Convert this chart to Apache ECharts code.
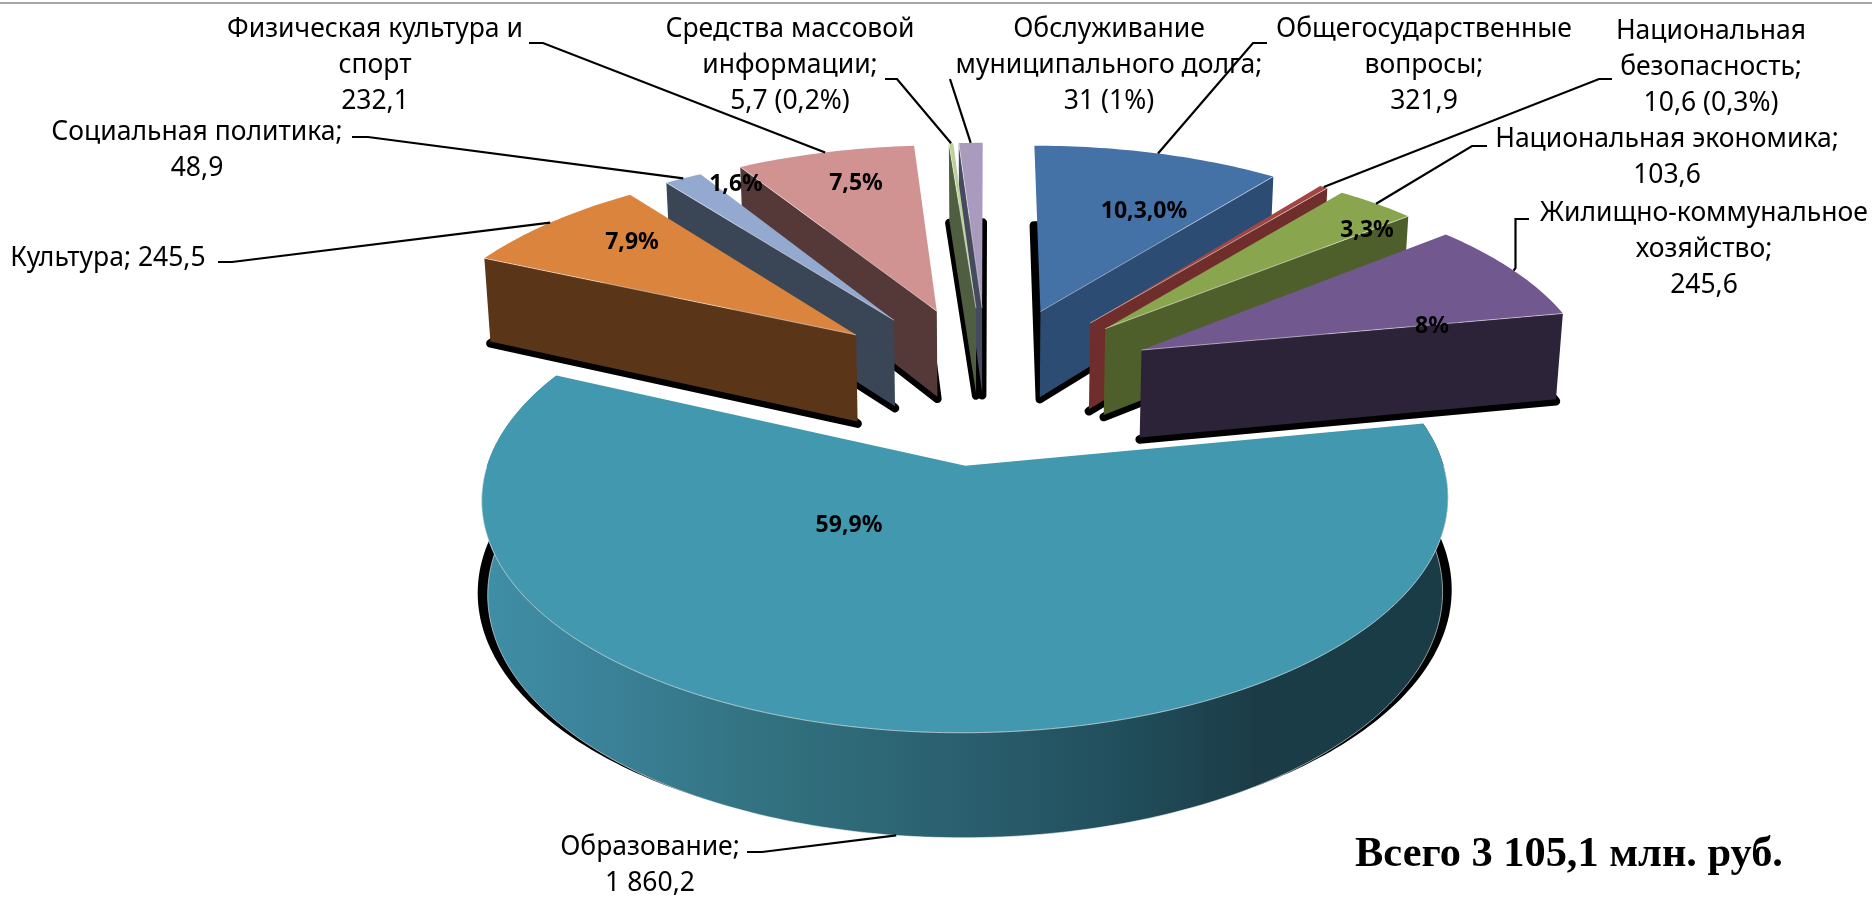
<!DOCTYPE html>
<html>
<head>
<meta charset="utf-8">
<style>html,body{margin:0;padding:0;background:#fff}#c{width:1872px;height:897px}</style>
<script src="https://cdn.jsdelivr.net/npm/echarts@6/dist/echarts.min.js"></script>
</head>
<body>
<div id="c"></div>
<script>
// ---- data ----
const categories = ['Общегосударственные вопросы','Национальная безопасность','Национальная экономика','Жилищно-коммунальное хозяйство','Образование','Культура','Социальная политика','Физическая культура и спорт','Средства массовой информации','Обслуживание муниципального долга'];
const values = [321.9, 10.6, 103.6, 245.6, 1860.2, 245.5, 48.9, 232.1, 5.7, 31];
const calloutText = [
  'Общегосударственные\nвопросы;\n321,9',
  'Национальная\nбезопасность;\n10,6 (0,3%)',
  'Национальная экономика;\n103,6',
  'Жилищно-коммунальное\nхозяйство;\n245,6',
  'Образование;\n1 860,2',
  'Культура; 245,5',
  'Социальная политика;\n48,9',
  'Физическая культура и\nспорт\n232,1',
  'Средства массовой\nинформации;\n5,7 (0,2%)',
  'Обслуживание\nмуниципального долга;\n31 (1%)'
];
const percentText = ['10,3,0%','','3,3%','8%','59,9%','7,9%','1,6%','7,5%','',''];
const totalText = 'Всего 3 105,1 млн. руб.';

// ---- styling & layout (not data) ----
const topColors  = ['#4472a6','#a34542','#89a54e','#71588f','#4198af','#db843d','#93a9cf','#d19392','#bcd09a','#a99bbd'];
const wallColors = ['#2c4c74','#6f2e2b','#4f5f2c','#2d2339','#1a3c47','#5a3518','#3a4556','#553939','#4f5d40','#454a5e'];
const drawOrder  = [9,8,7,6,5,0,1,2,3,4];
const calloutPos = [[1424,65.5],[1711,67.5],[1667,157],[1704,249.5],[650,865.5],[108,258],[197,150.5],[375,65.5],[790,65.5],[1109,65.5]];
const percentPos = [[1144,211],null,[1367,230],[1432,326],[849,525],[632,242],[736,184],[856,183],null,null];
const leaderHead = [
  [[1267,43],[1253,43]],
  [[1612,79],[1599,79]],
  [[1487,146],[1472,146]],
  [[1529,219],[1515.5,219],[1515.5,268]],
  [[747,852],[762,852]],
  [[218,262],[232,262]],
  [[352,137],[368,137]],
  [[529,43],[543,43]],
  [[885,79],[897,79]],
  [[950,79]]
];
const CX = 987.3, CY = 383, RX = 453.7, RY = 206, PERSP = 0.135, EXPLODE = 0.384, DEPTH = 89;
const RAD = Math.PI / 180;

const total = values.reduce((a, b) => a + b, 0);
function angles(i) {
  let s = 0;
  for (let k = 0; k < i; k++) s += values[k];
  return [s / total * 360, (s + values[i]) / total * 360];
}
function project(i, theta, r, bottom) {
  const [a, b] = angles(i), m = (a + b) / 2 * RAD, t = theta * RAD;
  const u = EXPLODE * Math.sin(m) + r * Math.sin(t);
  const v = EXPLODE * Math.cos(m) + r * Math.cos(t);
  const f = 1 / (1 + PERSP * v);
  let x = CX + RX * u * f, y = CY - RY * v * f;
  if (bottom) { y += DEPTH * Math.pow(f, 0.8); x -= (x - CX) * 0.012; }
  return [x, y];
}
function arc(i, bottom) {
  const [a, b] = angles(i), n = Math.max(2, Math.ceil(b - a)), pts = [];
  for (let k = 0; k <= n; k++) pts.push(project(i, a + (b - a) * k / n, 1, bottom));
  return pts;
}
function renderSlice(params, api) {
  const i = params.dataIndex;
  api.value(0);
  const [a, b] = angles(i);
  const z = drawOrder.indexOf(i) * 10 + 1;
  const apexT = project(i, a, 0, false), apexB = project(i, a, 0, true);
  const top = arc(i, false), bot = arc(i, true);
  const kids = [];
  const isBig = b - a > 180;
  // shadow
  if (isBig) {
    const sh = bot.map(p => [p[0] + (p[0] - CX) * 0.02, p[1] - 2]);
    kids.push({type:'polygon', z2:z, shape:{points:sh}, style:{fill:'#000'}});
    const rim = top.concat(bot.slice().reverse());
    kids.push({type:'polygon', z2:z+1, shape:{points:rim}, style:{fill:new echarts.graphic.LinearGradient(0,0,1,0,[
      {offset:0,color:'#3f8fa6'},{offset:0.12,color:'#3b8299'},{offset:0.3,color:'#32717f'},
      {offset:0.5,color:'#2a5f6f'},{offset:0.68,color:'#204c59'},{offset:0.8,color:'#1b3c47'},{offset:1,color:'#1a3c47'}])}});
    kids.push({type:'polyline', z2:z+1, shape:{points:bot}, style:{stroke:'rgba(255,255,255,0.55)', lineWidth:1, fill:'none'}});
    kids.push({type:'polyline', z2:z+3, shape:{points:top.filter((p,k)=>k>10&&k<top.length-25)}, style:{stroke:'rgba(255,255,255,0.6)', lineWidth:1, fill:'none'}});
  } else {
    const sh = [apexB].concat(bot).map(p => [p[0], p[1] + 2]);
    kids.push({type:'polygon', z2:z, shape:{points:sh}, style:{fill:'#000', stroke:'#000', lineWidth:8.5, lineJoin:'round'}});
    const sinEnd = Math.sin(b * RAD), sinStart = Math.sin(a * RAD);
    const wall = (t) => {
      const pT = project(i, t, 1, false), pB = project(i, t, 1, true);
      kids.push({type:'polygon', z2:z+1, shape:{points:[apexT, pT, pB, apexB]}, style:{fill:wallColors[i]}});
      kids.push({type:'polyline', z2:z+3, shape:{points:[apexT, pT]}, style:{stroke:'rgba(255,255,255,0.5)', lineWidth:1, fill:'none'}});
    };
    if (sinEnd > 0) wall(b);
    if (sinStart < 0) wall(a);
  }
  kids.push({type:'polygon', z2:z+2, shape:{points:[apexT].concat(top)}, style:{fill:topColors[i]}});
  if (percentPos[i]) {
    kids.push({type:'text', z2:500, x:percentPos[i][0], y:percentPos[i][1], style:{
      text:percentText[i], fill:'#000', font:'bold 23px "Noto Sans"', align:'center', verticalAlign:'middle'}});
  }
  return {type:'group', children:kids};
}

// callouts
const graphics = [{type:'rect', z:0, shape:{x:0,y:2,width:1872,height:2}, style:{fill:'#a6a6a6'}}];
categories.forEach((c, i) => {
  const [a, b] = angles(i);
  const end = project(i, (a + b) / 2, 1, b - a > 180);
  const pts = leaderHead[i].concat([end]);
  graphics.push({type:'polyline', z:20, shape:{points:pts}, style:{stroke:'#000', lineWidth:2.2, fill:'none'}});
  graphics.push({type:'text', z:20, x:calloutPos[i][0], y:calloutPos[i][1], style:{
    text:calloutText[i], fill:'#000', font:'26.5px "Noto Sans"', lineHeight:36, align:'center', verticalAlign:'middle'}});
});
graphics.push({type:'text', z:20, x:1569, y:855, style:{
  text:totalText, fill:'#000', font:'bold 42.4px "Liberation Serif"', align:'center', verticalAlign:'middle'}});

const chart = echarts.init(document.getElementById('c'), null, {renderer:'canvas'});
chart.setOption({
  animation:false,
  backgroundColor:'#fff',
  graphic:{elements:graphics},
  series:[{
    type:'custom',
    coordinateSystem:'none',
    silent:true,
    renderItem:renderSlice,
    data:categories.map((c, i) => ({name:c, value:[values[i]]}))
  }]
});
</script>
</body>
</html>
